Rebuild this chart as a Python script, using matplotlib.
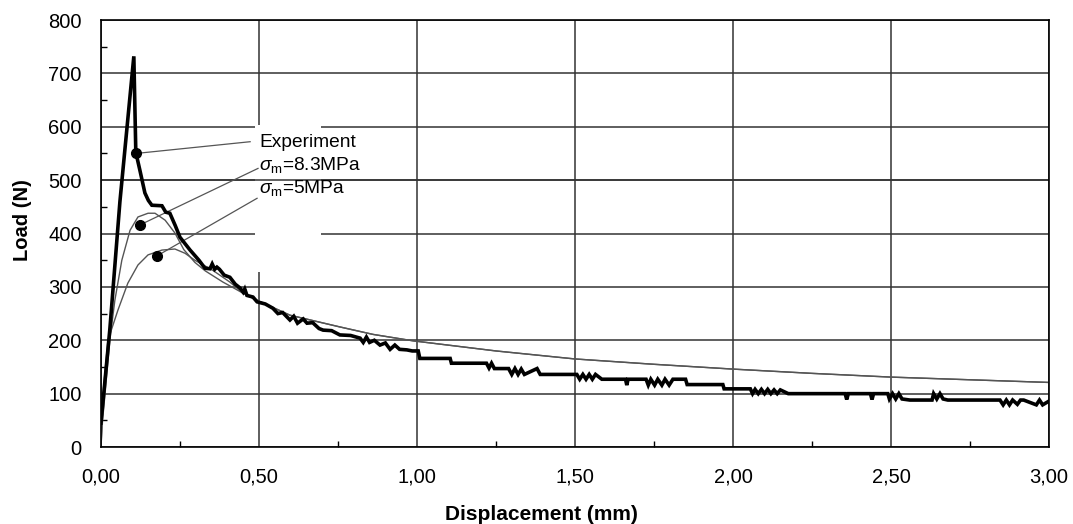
import numpy as np
import matplotlib
matplotlib.use("Agg")
import matplotlib.pyplot as plt
from matplotlib.patches import Rectangle

plt.rcParams['font.family'] = ['Liberation Sans', 'DejaVu Sans']
plt.rcParams['mathtext.fontset'] = 'custom'
plt.rcParams['mathtext.rm'] = 'Liberation Sans'
plt.rcParams['mathtext.it'] = 'Liberation Sans:italic'

# experiment curve (displacement mm, load N)
exp_x = [0.000, 0.028, 0.060, 0.104, 0.110, 0.113, 0.123, 0.139, 0.150, 0.161,
         0.193, 0.205, 0.218, 0.235, 0.250, 0.282, 0.310, 0.329, 0.345, 0.352,
         0.360, 0.367, 0.375, 0.390, 0.408, 0.425, 0.440, 0.450, 0.455, 0.462,
         0.481, 0.494, 0.520, 0.544, 0.560, 0.575, 0.598, 0.610, 0.622, 0.640,
         0.652, 0.670, 0.690, 0.703, 0.730, 0.756, 0.790, 0.820, 0.830, 0.840,
         0.850, 0.865, 0.883, 0.900, 0.915, 0.930, 0.945, 0.968, 0.985, 1.004,
         1.009, 1.105, 1.109, 1.220, 1.228, 1.236, 1.245, 1.290, 1.300, 1.310,
         1.320, 1.330, 1.340, 1.380, 1.390, 1.506, 1.515, 1.525, 1.535, 1.545,
         1.555, 1.565, 1.585, 1.660, 1.664, 1.668, 1.725, 1.732, 1.740, 1.752,
         1.762, 1.775, 1.785, 1.798, 1.810, 1.850, 1.855, 1.968, 1.972, 2.055,
         2.062, 2.070, 2.080, 2.090, 2.100, 2.110, 2.120, 2.130, 2.140, 2.150,
         2.175, 2.355, 2.360, 2.365, 2.435, 2.440, 2.445, 2.490, 2.495, 2.505,
         2.515, 2.525, 2.535, 2.560, 2.630, 2.635, 2.645, 2.655, 2.665, 2.680,
         2.845, 2.855, 2.865, 2.875, 2.885, 2.900, 2.910, 2.920, 2.960, 2.970,
         2.980, 3.000]
exp_y = [45, 220, 460, 732, 560, 545, 519, 476, 462, 453,
         452, 440, 438, 415, 393, 369, 350, 335, 334, 343,
         333, 337, 333, 322, 318, 305, 298, 290, 296, 284,
         281, 272, 268, 260, 250, 252, 238, 245, 232, 240,
         232, 233, 222, 219, 218, 210, 209, 204, 196, 206,
         196, 200, 191, 195, 183, 191, 183, 182, 180, 180,
         166, 166, 157, 157, 148, 157, 147, 147, 136, 147,
         136, 146, 136, 147, 136, 136, 127, 136, 127, 136,
         127, 136, 127, 127, 116, 127, 127, 116, 127, 116,
         127, 116, 127, 116, 127, 127, 117, 117, 109, 109,
         100, 108, 100, 108, 100, 108, 100, 107, 100, 107,
         100, 100, 89, 100, 100, 89, 100, 100, 90, 100,
         90, 100, 90, 88, 88, 100, 90, 100, 90, 88,
         88, 79, 88, 79, 88, 80, 88, 88, 79, 88,
         79, 86]

# model curves, rising part
m83_x = [0.000, 0.005, 0.013, 0.028, 0.044, 0.066, 0.092, 0.117, 0.149, 0.171,
         0.203, 0.234, 0.262, 0.297, 0.330, 0.386, 0.420]
m83_y = [0, 50, 101, 200, 275, 350, 406, 431, 438, 438,
         425, 401, 370, 346, 330, 309, 298]
m5_x = [0.000, 0.008, 0.022, 0.054, 0.085, 0.117, 0.149, 0.193, 0.234, 0.266,
        0.297, 0.354, 0.408]
m5_y = [0, 110, 200, 257, 307, 341, 360, 369, 371, 363,
        350, 331, 309]
# shared tail of both model curves
tail_x = [0.450, 0.494, 0.598, 0.756, 0.861, 0.987, 1.25, 1.50, 1.75, 2.00,
          2.25, 2.50, 2.75, 3.00]
tail_y = [288, 275, 247, 225, 211, 199, 180, 165, 155, 146,
          138, 131, 126, 121]

# annotation points and labels
dot_x = [0.111, 0.123, 0.177]
dot_y = [550, 416, 358]
lab_x = [0.472, 0.497, 0.494]
lab_y = [572, 522, 466]
labels = ['Experiment', r'$\sigma_{\rm m}$=8.3MPa', r'$\sigma_{\rm m}$=5MPa']
text_y = [571, 528, 485]

fig = plt.figure(figsize=(10.73, 5.24), dpi=100)
ax = fig.add_axes([0.0941, 0.1469, 0.8835, 0.8149])

ax.set_xlim(0, 3)
ax.set_ylim(0, 800)
ax.set_xticks(np.arange(0, 3.01, 0.5))
ax.set_xticks(np.arange(0.25, 3.0, 0.5), minor=True)
ax.set_yticks(np.arange(0, 801, 100))
ax.set_yticks(np.arange(50, 800, 100), minor=True)
ax.set_xticklabels([('%.2f' % v).replace('.', ',') for v in np.arange(0, 3.01, 0.5)])
ax.tick_params(which='both', direction='in', labelsize=14.5)
ax.tick_params(which='major', length=0)
ax.tick_params(which='minor', length=4, width=1)
ax.tick_params(axis='y', pad=14)
ax.tick_params(axis='x', pad=15)
ax.grid(True, which='major', color='#333333', linewidth=1.1)
for s in ax.spines.values():
    s.set_linewidth(1.2)

# white box behind the labels (hides grid, but 500 line stays)
ax.add_patch(Rectangle((0.487, 328), 0.209, 275, facecolor='white',
                       edgecolor='none', zorder=1.6))
ax.axhline(500, color='#333333', linewidth=1.1, zorder=1.7)

ax.plot(np.concatenate([m83_x, tail_x]), np.concatenate([m83_y, tail_y]),
        color='#555555', linewidth=1.0, zorder=2)
ax.plot(np.concatenate([m5_x, tail_x]), np.concatenate([m5_y, tail_y]),
        color='#555555', linewidth=1.0, zorder=2)
ax.plot(exp_x, exp_y, color='black', linewidth=2.6, zorder=3,
        solid_joinstyle='miter')

for i in range(3):
    ax.plot([dot_x[i], lab_x[i]], [dot_y[i], lab_y[i]], color='#555555',
            linewidth=0.9, zorder=2.5)
    ax.text(0.500, text_y[i], labels[i], fontsize=13.8, va='center', ha='left',
            zorder=4)
ax.plot(dot_x, dot_y, 'o', color='black', markersize=7, zorder=5)

ax.set_xlabel('Displacement (mm)', fontsize=15, fontweight='bold')
ax.set_ylabel('Load (N)', fontsize=14.5, fontweight='bold')
ax.xaxis.set_label_coords(0.465, -0.136)
ax.yaxis.set_label_coords(-0.073, 0.532)

fig.savefig('out.png', dpi=100)
